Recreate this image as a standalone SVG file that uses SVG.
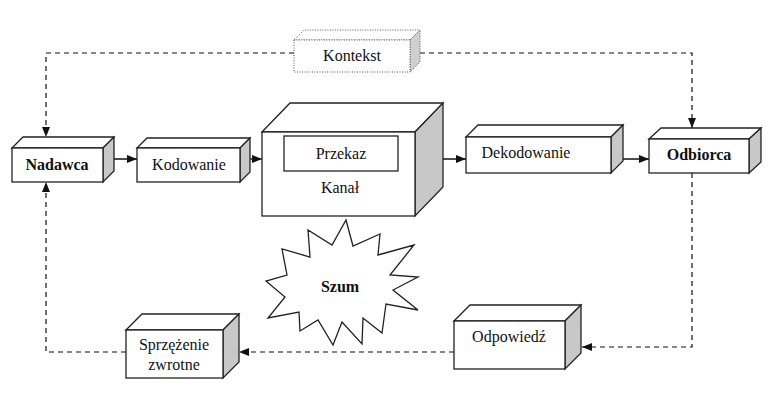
<svg xmlns="http://www.w3.org/2000/svg" width="778" height="400" viewBox="0 0 778 400">
<style>
.f{fill:#fff;stroke:#222;stroke-width:1.3}
.s{fill:#c8c8c8;stroke:#222;stroke-width:1.3}
.t{font-family:"Liberation Serif","Times New Roman","DejaVu Serif",serif;font-size:16px;fill:#111;text-anchor:middle}
.b{font-weight:bold}
.d{fill:none;stroke:#111;stroke-width:1.2;stroke-dasharray:5,4}
.l{fill:none;stroke:#111;stroke-width:1.3}
</style>
<defs>
<marker id="a" markerWidth="10" markerHeight="8" refX="10" refY="4" orient="auto" markerUnits="userSpaceOnUse"><path d="M0,0L10,4L0,8z" fill="#111"/></marker>
</defs>
<rect width="778" height="400" fill="#fff"/>
<g id="connectors">
<path class="d" d="M294,53H46V137" marker-end="url(#a)"/>
<path class="d" d="M420,53H692V128" marker-end="url(#a)"/>
<path class="d" d="M692,173V347H582" marker-end="url(#a)"/>
<path class="d" d="M454,352H239" marker-end="url(#a)"/>
<path class="d" d="M126,352H46V182" marker-end="url(#a)"/>
<path class="l" d="M103,159H137" marker-end="url(#a)"/>
<path class="l" d="M240,159H262" marker-end="url(#a)"/>
<path class="l" d="M420,159H466" marker-end="url(#a)"/>
<path class="l" d="M615,159H649" marker-end="url(#a)"/>
</g>
<g id="kontekst">
<path d="M294,40L304,30H420L410,40Z" fill="#fff" stroke="#555" stroke-dasharray="1,1.5"/>
<path d="M410,40L420,30V62L410,72Z" fill="#d0d0d0" stroke="#555" stroke-dasharray="1,1.5"/>
<rect x="294" y="40" width="116" height="32" fill="#fff" stroke="#555" stroke-dasharray="1,1.5"/>
<text class="t" x="352" y="61">Kontekst</text>
</g>
<g id="nadawca">
<path class="f" d="M12,148L23,137H114L103,148Z"/><path class="s" d="M103,148L114,137V171L103,182Z"/>
<rect class="f" x="12" y="148" width="91" height="34"/>
<text class="t b" x="57" y="170">Nadawca</text>
</g>
<g id="kodowanie">
<path class="f" d="M137,148L147,138H250L240,148Z"/><path class="s" d="M240,148L250,138V172L240,182Z"/>
<rect class="f" x="137" y="148" width="103" height="34"/>
<text class="t" x="189" y="170">Kodowanie</text>
</g>
<g id="kanal">
<path class="f" d="M262,132L290,103H443L415,132Z"/><path class="s" d="M415,132L443,103V187L415,216Z"/>
<rect class="f" x="262" y="132" width="153" height="84"/>
<rect class="f" x="284" y="136" width="114" height="35"/>
<text class="t" x="341" y="159">Przekaz</text>
<text class="t" x="340" y="193">Kanał</text>
</g>
<g id="dekodowanie">
<path class="f" d="M466,137L478,125H623L611,137Z"/><path class="s" d="M611,137L623,125V161L611,173Z"/>
<rect class="f" x="466" y="137" width="145" height="36"/>
<text class="t" x="526" y="158">Dekodowanie</text>
</g>
<g id="odbiorca">
<path class="f" d="M649,139L661,128H761L749,139Z"/><path class="s" d="M749,139L761,128V162L749,173Z"/>
<rect class="f" x="649" y="139" width="100" height="34"/>
<text class="t b" x="699" y="160">Odbiorca</text>
</g>
<g id="szum">
<polygon class="f" points="346,220 353,246 380,234 378,255 414,245 390,275 418,277 393,290 418,310 386,304 382,333 363,318 362,344 342,322 333,345 318,320 300,331 299,312 268,318 285,297 266,281 287,275 282,249 310,257 308,230 332,245"/>
<text class="t b" x="340" y="292">Szum</text>
</g>
<g id="odpowiedz">
<path class="f" d="M454,321L470,305H581L565,321Z"/><path class="s" d="M565,321L581,305V353L565,369Z"/>
<rect class="f" x="454" y="321" width="111" height="48"/>
<text class="t" x="509" y="342">Odpowiedź</text>
</g>
<g id="sprzezenie">
<path class="f" d="M126,330L142,314H239L223,330Z"/><path class="s" d="M223,330L239,314V362L223,378Z"/>
<rect class="f" x="126" y="330" width="97" height="48"/>
<text class="t" x="174" y="350">Sprzężenie</text>
<text class="t" x="174" y="370">zwrotne</text>
</g>
</svg>
